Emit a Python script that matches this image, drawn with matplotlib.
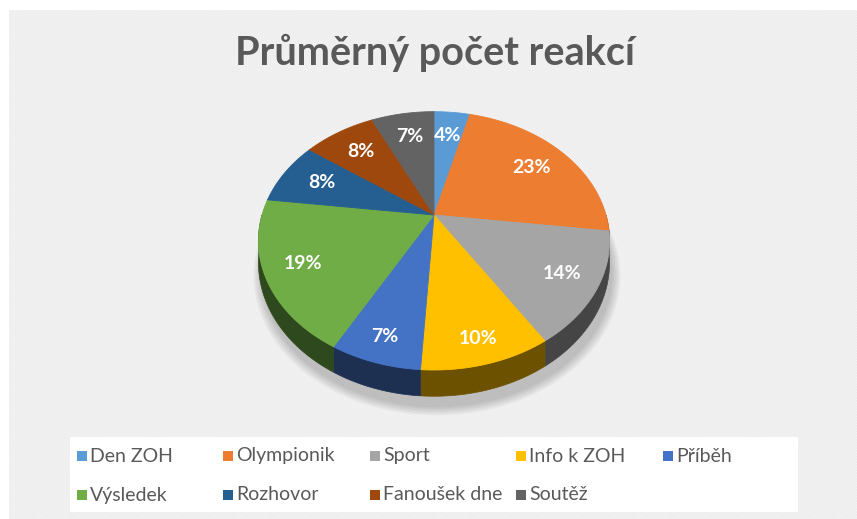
import numpy as np
import matplotlib
matplotlib.use('Agg')
import matplotlib.pyplot as plt
from matplotlib.patches import Polygon, Rectangle

categories = ['Den ZOH', 'Olympionik', 'Sport', 'Info k ZOH', 'Příběh',
              'Výsledek', 'Rozhovor', 'Fanoušek dne', 'Soutěž']
shares = [4, 23, 14, 10, 7, 19, 8, 8, 7]
colors = ['#5B9BD5', '#ED7D31', '#A5A5A5', '#FFC000', '#4472C4',
          '#70AD47', '#255E91', '#9E480E', '#636363']
title = 'Průměrný počet reakcí'

plt.rcParams['font.family'] = ['Lato', 'DejaVu Sans']
plt.rcParams['hatch.linewidth'] = 1.0

W, H = 857, 519
fig = plt.figure(figsize=(W / 100, H / 100), dpi=100)
ax = fig.add_axes([0, 0, 1, 1])
ax.set_xlim(0, W)
ax.set_ylim(H, 0)
ax.axis('off')

# hatched chart area
ax.add_patch(Rectangle((9, 10), W - 9, H - 10, facecolor='#fcfcfc',
                       edgecolor='#ebebeb', linewidth=0, hatch='\\' * 12, zorder=0))

# perspective projection of the pie
cx, cy = 434, 215
s, cs, k, dep = 172, 124, 0.2, 21


def proj(theta, r=1.0, z=0.0):
    x = r * np.sin(theta)
    yf = r * np.cos(theta)
    f = 1 + k * yf
    return cx + x * s / f, cy - yf * cs / f + z * dep / f


def darker(c, f):
    rgb = np.array(matplotlib.colors.to_rgb(c))
    return tuple(rgb * f)


total = sum(shares)
bounds = np.cumsum([0] + shares) / total * 2 * np.pi

# soft shadow
t = np.linspace(0, 2 * np.pi, 200)
for g in np.linspace(1.045, 1.0, 6):
    px, py = proj(t, 1.0, 1.0)
    px = cx + (px - cx) * g + 3
    py = cy + 8 + (py - cy) * g + 3
    ax.add_patch(Polygon(np.c_[px, py], closed=True, facecolor='black',
                         alpha=0.035, linewidth=0, zorder=1))

# side walls (front half only)
for i in range(len(shares)):
    a0 = max(bounds[i], np.pi / 2)
    a1 = min(bounds[i + 1], 3 * np.pi / 2)
    if a1 <= a0:
        continue
    t = np.linspace(a0, a1, 80)
    x0, y0 = proj(t, 1.0, 0.0)
    x1, y1 = proj(t[::-1], 1.0, 1.0)
    pts = np.c_[np.r_[x0, x1], np.r_[y0, y1]]
    ax.add_patch(Polygon(pts, closed=True, facecolor=darker(colors[i], 0.42),
                         edgecolor=darker(colors[i], 0.42), linewidth=0.5, zorder=2))

# top faces
for i in range(len(shares)):
    t = np.linspace(bounds[i], bounds[i + 1], 120)
    x, y = proj(t)
    pts = np.c_[np.r_[cx, x], np.r_[cy, y]]
    ax.add_patch(Polygon(pts, closed=True, facecolor=colors[i],
                         edgecolor=colors[i], linewidth=0.6, zorder=3))
    mid = (bounds[i] + bounds[i + 1]) / 2
    r_lab = 0.74 + 0.12 * max(0.0, -np.cos(mid))
    lx, ly = proj(mid, r_lab)
    ax.text(lx, ly, f'{shares[i]}%', color='white', fontsize=14,
            fontweight='bold', ha='center', va='center', zorder=4)

ax.text(435, 53, title, fontsize=28.5, fontweight='bold', color='#595959',
        ha='center', va='center', zorder=4)

# legend
ax.add_patch(Rectangle((70, 437), 728, 75, facecolor='white',
                       edgecolor='none', zorder=3))
for i, (lab, col) in enumerate(zip(categories, colors)):
    row, c = divmod(i, 5)
    x = 77 + c * 146.5
    y = 456 + row * 39
    ax.add_patch(Rectangle((x, y - 5), 10, 10, facecolor=col, edgecolor='none', zorder=4))
    ax.text(x + 13, y, lab, fontsize=14, color='#595959', ha='left',
            va='center', zorder=4)

fig.savefig('out.png', dpi=100)
